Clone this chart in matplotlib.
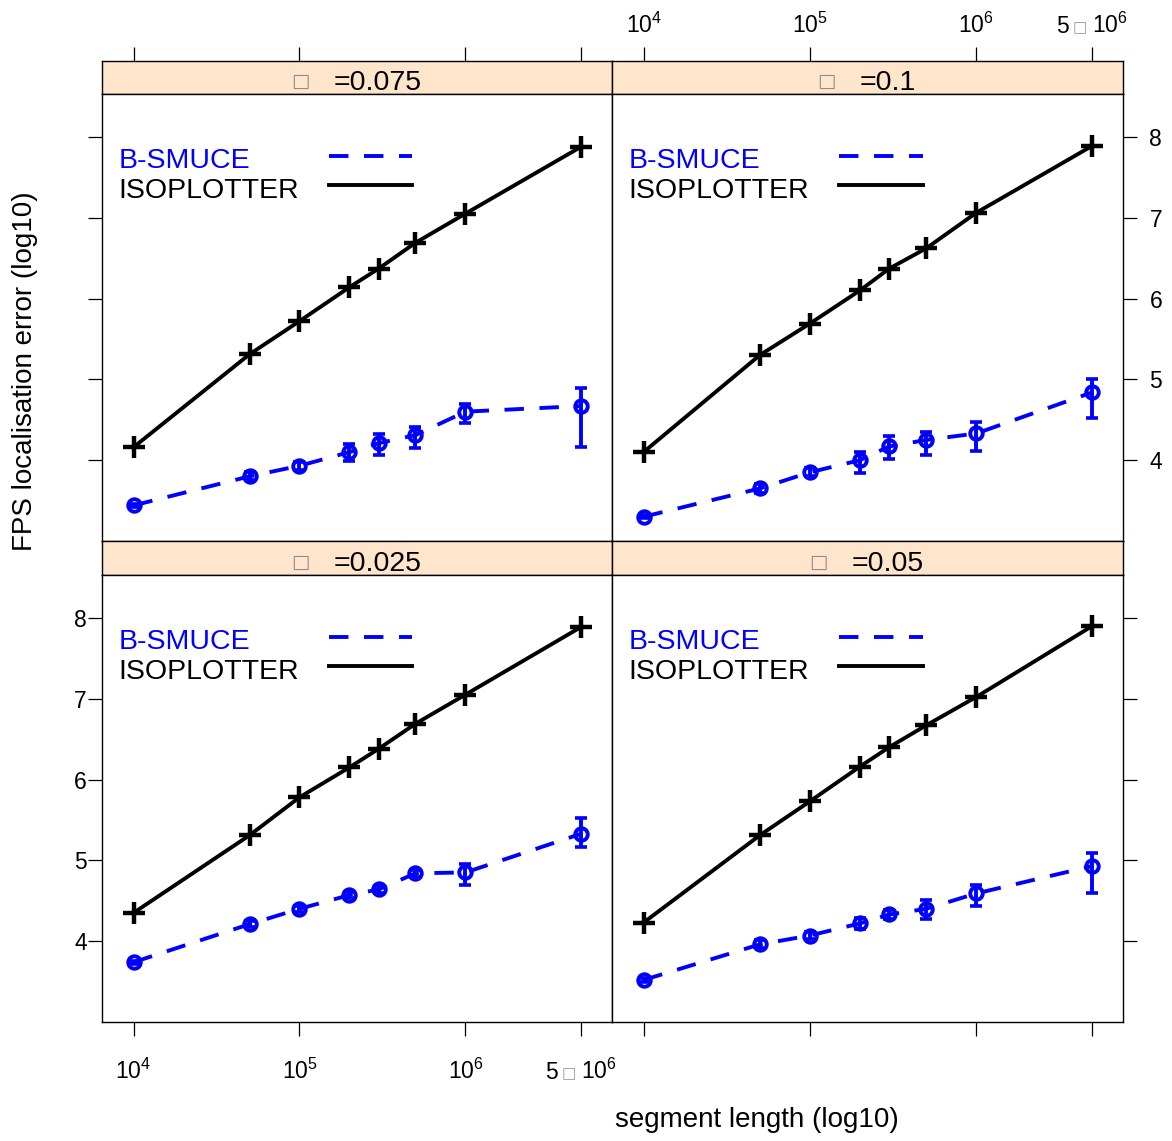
import matplotlib
matplotlib.use('Agg')
import matplotlib.pyplot as plt
import matplotlib.transforms as mtransforms
from matplotlib.lines import Line2D
from matplotlib.ticker import NullLocator, NullFormatter

plt.rcParams['font.family'] = ['Liberation Sans', 'DejaVu Sans']
plt.rcParams['mathtext.fontset'] = 'custom'
plt.rcParams['mathtext.rm'] = 'Liberation Sans'
plt.rcParams['mathtext.it'] = 'Liberation Sans:italic'
plt.rcParams['mathtext.bf'] = 'Liberation Sans:bold'

# ---------------- data ----------------
seg_len = [1e4, 5e4, 1e5, 2e5, 3e5, 5e5, 1e6, 5e6]
x_ticks = [1e4, 1e5, 1e6, 5e6]
x_tick_exp = ['4', '5', '6', '6']
y_ticks = [4, 5, 6, 7, 8]
panel_alpha = ['0.075', '0.1', '0.025', '0.05']   # TL, TR, BL, BR

iso_0075 = [4.16, 5.31, 5.72, 6.14, 6.37, 6.69, 7.05, 7.88]
bsm_0075 = [3.44, 3.80, 3.93, 4.10, 4.21, 4.31, 4.60, 4.67]
bsm_lo_0075 = [3.42, 3.75, 3.88, 3.99, 4.06, 4.15, 4.46, 4.16]
bsm_hi_0075 = [3.46, 3.85, 3.98, 4.20, 4.32, 4.41, 4.70, 4.89]

iso_01 = [4.10, 5.30, 5.69, 6.10, 6.37, 6.62, 7.06, 7.89]
bsm_01 = [3.30, 3.65, 3.85, 4.00, 4.17, 4.25, 4.33, 4.84]
bsm_lo_01 = [3.28, 3.59, 3.80, 3.84, 4.02, 4.07, 4.11, 4.52]
bsm_hi_01 = [3.32, 3.71, 3.90, 4.10, 4.30, 4.35, 4.47, 5.01]

iso_0025 = [4.35, 5.31, 5.78, 6.15, 6.38, 6.69, 7.05, 7.89]
bsm_0025 = [3.74, 4.21, 4.40, 4.57, 4.64, 4.84, 4.85, 5.33]
bsm_lo_0025 = [3.72, 4.17, 4.36, 4.53, 4.60, 4.80, 4.70, 5.17]
bsm_hi_0025 = [3.76, 4.25, 4.44, 4.61, 4.68, 4.88, 4.95, 5.52]

iso_005 = [4.23, 5.31, 5.73, 6.16, 6.40, 6.67, 7.02, 7.90]
bsm_005 = [3.52, 3.96, 4.07, 4.22, 4.33, 4.40, 4.59, 4.93]
bsm_lo_005 = [3.50, 3.91, 4.03, 4.15, 4.27, 4.28, 4.43, 4.60]
bsm_hi_005 = [3.54, 4.01, 4.11, 4.29, 4.39, 4.51, 4.69, 5.09]

panels = [
    (iso_0075, bsm_0075, bsm_lo_0075, bsm_hi_0075),
    (iso_01, bsm_01, bsm_lo_01, bsm_hi_01),
    (iso_0025, bsm_0025, bsm_lo_0025, bsm_hi_0025),
    (iso_005, bsm_005, bsm_lo_005, bsm_hi_005),
]

# ---------------- layout ----------------
W, H = 1172, 1141
fig = plt.figure(figsize=(W / 100, H / 100), dpi=100)
renderer = fig.canvas.get_renderer()


def rect(x0, y0, x1, y1):
    return [x0 / W, 1 - y1 / H, (x1 - x0) / W, (y1 - y0) / H]


cols = [(102, 612), (612, 1123)]
rows = [(61, 94, 541), (541, 575, 1022)]
XLIM = (10 ** 3.81, 10 ** 6.883)
YLIM = (3.0, 8.53)
STRIP_BG = '#FFE5CC'
TICK_FS = 16.5
BIG_FS = 20.5
DASH = (0, (5.0, 4.0))
BOXCH = '\u25a1'
LW = 2.8


def tick_labels(ax, y_px):
    """Draw x tick labels (10^k style) centred on ticks, baseline at y_px."""
    trans = mtransforms.blended_transform_factory(ax.transData, fig.transFigure)
    yb = 1 - y_px / H
    for v, e in zip(x_ticks, x_tick_exp):
        if v == 5e6:
            t5 = mtransforms.offset_copy(trans, fig=fig, x=-30, y=0, units='dots')
            fig.text(v, yb, '5', transform=t5, ha='center', va='baseline', fontsize=TICK_FS)
            tb = mtransforms.offset_copy(trans, fig=fig, x=-13, y=1, units='dots')
            fig.text(v, yb, BOXCH, transform=tb, ha='center', va='baseline',
                     fontsize=11, color='#9a9a9a', family=['DejaVu Sans'])
            fig.text(v, yb, r'$10^{%s}$' % e, transform=trans, ha='left', va='baseline',
                     fontsize=TICK_FS)
        else:
            fig.text(v, yb, r'$10^{%s}$' % e, transform=trans, ha='center', va='baseline',
                     fontsize=TICK_FS)


for i, (iso, bsm, lo, hi) in enumerate(panels):
    r, c = divmod(i, 2)
    cx0, cx1 = cols[c]
    sy0, py0, py1 = rows[r]

    # strip
    axs = fig.add_axes(rect(cx0, sy0, cx1, py0))
    axs.set_facecolor(STRIP_BG)
    axs.set_xscale('log')
    axs.set_xlim(*XLIM)
    axs.set_ylim(0, 1)
    axs.set_yticks([])
    axs.set_xticks(x_ticks)
    axs.xaxis.set_minor_locator(NullLocator())
    axs.xaxis.set_minor_formatter(NullFormatter())
    axs.tick_params(axis='x', direction='out', length=10, width=0.9,
                    bottom=False, labelbottom=False, top=(r == 0), labeltop=False)
    for sp in axs.spines.values():
        sp.set_linewidth(1.0)
        sp.set_color('black')

    # strip text: tofu box + "=value"
    cxm = (cx0 + cx1) / 2
    base_px = py0 - 4
    tnum = fig.text(0, 1 - base_px / H, '=' + panel_alpha[i], fontsize=BIG_FS,
                    va='baseline', ha='left')
    wtot = tnum.get_window_extent(renderer=renderer).width
    x_eq = cxm - (wtot - 43) / 2 + 3
    tnum.set_x((x_eq - 4) / W)
    fig.text((x_eq - 37) / W, 1 - (base_px - 9) / H, BOXCH, fontsize=14,
             va='center', ha='center', color='#8c8c8c', family=['DejaVu Sans'])

    # panel
    ax = fig.add_axes(rect(cx0, py0, cx1, py1))
    ax.set_xscale('log')
    ax.plot(seg_len, iso, color='black', lw=LW, marker='+', ms=16, mew=3.2, zorder=3)
    ax.plot(seg_len, bsm, color='blue', lw=LW, linestyle=DASH, zorder=3)
    yerr = [[b - l for b, l in zip(bsm, lo)], [h - b for h, b in zip(hi, bsm)]]
    ax.errorbar(seg_len, bsm, yerr=yerr, fmt='none', ecolor='blue', elinewidth=LW,
                capsize=4.5, capthick=2.6, zorder=4)
    ax.plot(seg_len, bsm, linestyle='none', marker='o', ms=9, mfc='none',
            mec='blue', mew=2.8, zorder=5)

    ax.set_xlim(*XLIM)
    ax.set_ylim(*YLIM)
    ax.set_xticks(x_ticks)
    ax.xaxis.set_minor_locator(NullLocator())
    ax.xaxis.set_minor_formatter(NullFormatter())
    ax.set_xticklabels([])
    ax.set_yticks(y_ticks)
    ax.set_yticklabels([str(v) for v in y_ticks])
    ax.tick_params(direction='out', length=10, width=0.9, labelsize=TICK_FS,
                   bottom=(r == 1), top=False, left=(c == 0), right=(c == 1),
                   labelbottom=False, labeltop=False,
                   labelleft=(r == 1 and c == 0), labelright=(r == 0 and c == 1))
    ax.tick_params(axis='y', pad=(1 if c == 0 else 9))
    for sp in ax.spines.values():
        sp.set_linewidth(1.0)
        sp.set_color('black')

    # in-panel legend
    ax.text(0.033, 1 - 74 / 447, 'B-SMUCE', color='blue', fontsize=BIG_FS,
            va='baseline', ha='left', transform=ax.transAxes)
    ax.text(0.033, 1 - 104 / 447, 'ISOPLOTTER', color='black', fontsize=BIG_FS,
            va='baseline', ha='left', transform=ax.transAxes)
    ax.add_line(Line2D([0.445, 0.608], [1 - 62 / 447] * 2, transform=ax.transAxes,
                       color='blue', lw=LW, linestyle=DASH))
    ax.add_line(Line2D([0.445, 0.608], [1 - 91 / 447] * 2, transform=ax.transAxes,
                       color='black', lw=LW))

    if r == 1 and c == 0:
        tick_labels(ax, 1079)
    if r == 0 and c == 1:
        tick_labels(axs, 33)

fig.text(25 / W, 1 - 371 / H, 'FPS localisation error (log10)', rotation=90,
         ha='center', va='center', fontsize=20)
fig.text(757 / W, 1 - 1120 / H, 'segment length (log10)', ha='center', va='center',
         fontsize=20)

fig.savefig('out.png', dpi=100)
